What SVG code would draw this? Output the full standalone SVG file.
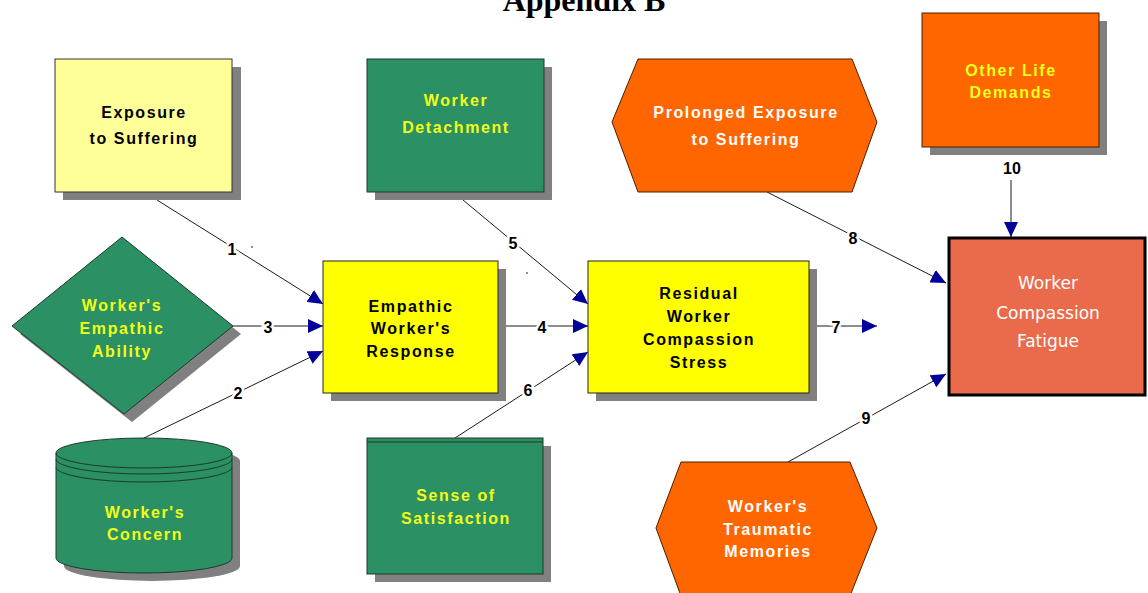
<svg xmlns="http://www.w3.org/2000/svg" width="1148" height="593" viewBox="0 0 1148 593">
<style>
.shadow{fill:#808080;stroke:none}
.lt{fill:#FFFF99;stroke:#333;stroke-width:1}
.yl{fill:#FFFF00;stroke:#222;stroke-width:1}
.gr{fill:#2B9063;stroke:#1e3a2a;stroke-width:1}
.or{fill:#FF6600;stroke:#4a2000;stroke-width:1}
.t{font-family:"Liberation Sans",Arial,sans-serif;font-weight:bold;font-size:16px;letter-spacing:1.6px;text-anchor:middle}
.blk{fill:#000}
.ylt{fill:#F2FF1A}
.wht{fill:#FFFFFF}
.con line{stroke:#000;stroke-width:0.9;marker-end:url(#ah)}
.lbl{font-family:"Liberation Sans",Arial,sans-serif;font-weight:bold;font-size:16px;fill:#000;text-anchor:middle;dominant-baseline:central;stroke:#fff;stroke-width:5;paint-order:stroke}
</style>
<defs>
<marker id="ah" markerUnits="userSpaceOnUse" markerWidth="16" markerHeight="14" refX="15" refY="7" orient="auto">
<path d="M0,0 L15,7 L0,14 Z" fill="#000099"/>
</marker>
</defs>
<rect width="1148" height="593" fill="#fff"/>
<text x="584" y="11" font-family="Liberation Serif,Times New Roman,serif" font-weight="bold" font-size="32" text-anchor="middle" fill="#000">Appendix B</text>

<g id="connectors" class="con">
<line x1="157" y1="200" x2="323" y2="304"/>
<line x1="233" y1="326" x2="323" y2="326"/>
<line x1="144" y1="438" x2="323" y2="351"/>
<line x1="498" y1="326" x2="588" y2="326"/>
<line x1="463" y1="200" x2="588" y2="304"/>
<line x1="455" y1="438" x2="588" y2="352"/>
<line x1="809" y1="326" x2="877" y2="326"/>
<line x1="767" y1="192" x2="946" y2="283"/>
<line x1="788" y1="462" x2="946" y2="374"/>
<line x1="1011" y1="180" x2="1011" y2="237"/>
<circle cx="252" cy="247" r="0.8" fill="#000" stroke="none"/>
<circle cx="527" cy="273" r="0.8" fill="#000" stroke="none"/>
</g>
<g id="labels">
<text class="lbl" x="232" y="249">1</text>
<text class="lbl" x="238" y="393">2</text>
<text class="lbl" x="268" y="327">3</text>
<text class="lbl" x="542" y="327">4</text>
<text class="lbl" x="513" y="243">5</text>
<text class="lbl" x="528" y="390">6</text>
<text class="lbl" x="836" y="327">7</text>
<text class="lbl" x="853" y="238">8</text>
<text class="lbl" x="866" y="418">9</text>
<text class="lbl" x="1012" y="168">10</text>
</g>

<g id="exposure">
<rect class="shadow" x="63" y="67" width="178" height="133"/>
<rect class="lt" x="55" y="59" width="177" height="133"/>
<text class="t blk" x="144" y="118">Exposure</text>
<text class="t blk" x="144" y="144">to Suffering</text>
</g>

<g id="detachment">
<rect class="shadow" x="375" y="67" width="177" height="133"/>
<rect class="gr" x="367" y="59" width="177" height="133"/>
<text class="t ylt" x="456" y="106">Worker</text>
<text class="t ylt" x="456" y="133">Detachment</text>
</g>

<g id="prolonged">
<polygon class="or" points="638,59 852,59 877,122 852,192 638,192 612,122"/>
<text class="t wht" x="746" y="118">Prolonged Exposure</text>
<text class="t wht" x="746" y="145">to Suffering</text>
</g>

<g id="otherlife">
<rect class="shadow" x="930" y="21" width="177" height="134"/>
<rect class="or" x="922" y="13" width="177" height="134" stroke="#000"/>
<text class="t ylt" x="1011" y="76">Other Life</text>
<text class="t ylt" x="1011" y="98">Demands</text>
</g>

<g id="ability">
<polygon class="shadow" points="130,245 241,334 132,422 20,334"/>
<polygon class="gr" points="122,237 233,326 124,414 12,326"/>
<text class="t ylt" x="122" y="311">Worker's</text>
<text class="t ylt" x="122" y="334">Empathic</text>
<text class="t ylt" x="122" y="357">Ability</text>
</g>

<g id="empathic">
<rect class="shadow" x="331" y="269" width="175" height="132"/>
<rect class="yl" x="323" y="261" width="175" height="132"/>
<text class="t blk" x="411" y="312">Empathic</text>
<text class="t blk" x="411" y="334">Worker's</text>
<text class="t blk" x="411" y="357">Response</text>
</g>

<g id="residual">
<rect class="shadow" x="596" y="269" width="221" height="132"/>
<rect class="yl" x="588" y="261" width="221" height="132"/>
<text class="t blk" x="699" y="299">Residual</text>
<text class="t blk" x="699" y="322">Worker</text>
<text class="t blk" x="699" y="345">Compassion</text>
<text class="t blk" x="699" y="368">Stress</text>
</g>

<g id="concern">
<path class="shadow" d="M64,461 A88,15 0 0 1 240,461 L240,566 A88,15 0 0 1 64,566 Z"/>
<path class="gr" d="M56,453 A88,15 0 0 1 232,453 L232,558 A88,15 0 0 1 56,558 Z"/>
<path d="M56,453 A88,15 0 0 0 232,453 M56,459 A88,15 0 0 0 232,459 M56,467 A88,15 0 0 0 232,467" fill="none" stroke="#1e3a2a" stroke-width="1"/>
<text class="t ylt" x="145" y="518">Worker's</text>
<text class="t ylt" x="145" y="540">Concern</text>
</g>

<g id="satisfaction">
<rect class="shadow" x="375" y="446" width="176" height="136"/>
<rect class="gr" x="367" y="438" width="176" height="136"/>
<line x1="367" y1="442" x2="543" y2="442" stroke="#1e3a2a" stroke-width="1"/>
<text class="t ylt" x="456" y="501">Sense of</text>
<text class="t ylt" x="456" y="524">Satisfaction</text>
</g>

<g id="traumatic">
<polygon class="or" points="681,462 850,462 877,528 850,596 681,596 656,528"/>
<text class="t wht" x="768" y="512">Worker's</text>
<text class="t wht" x="768" y="535">Traumatic</text>
<text class="t wht" x="768" y="557">Memories</text>
</g>

<g id="fatigue">
<rect x="949" y="238" width="196" height="157" fill="#EA6B4B" stroke="#000" stroke-width="3"/>
<text x="1048" y="289" font-family="Comic Sans MS,DejaVu Sans,sans-serif" font-size="17" fill="#fff" text-anchor="middle">Worker</text>
<text x="1048" y="319" font-family="Comic Sans MS,DejaVu Sans,sans-serif" font-size="17" fill="#fff" text-anchor="middle">Compassion</text>
<text x="1048" y="347" font-family="Comic Sans MS,DejaVu Sans,sans-serif" font-size="17" fill="#fff" text-anchor="middle">Fatigue</text>
</g>
</svg>
